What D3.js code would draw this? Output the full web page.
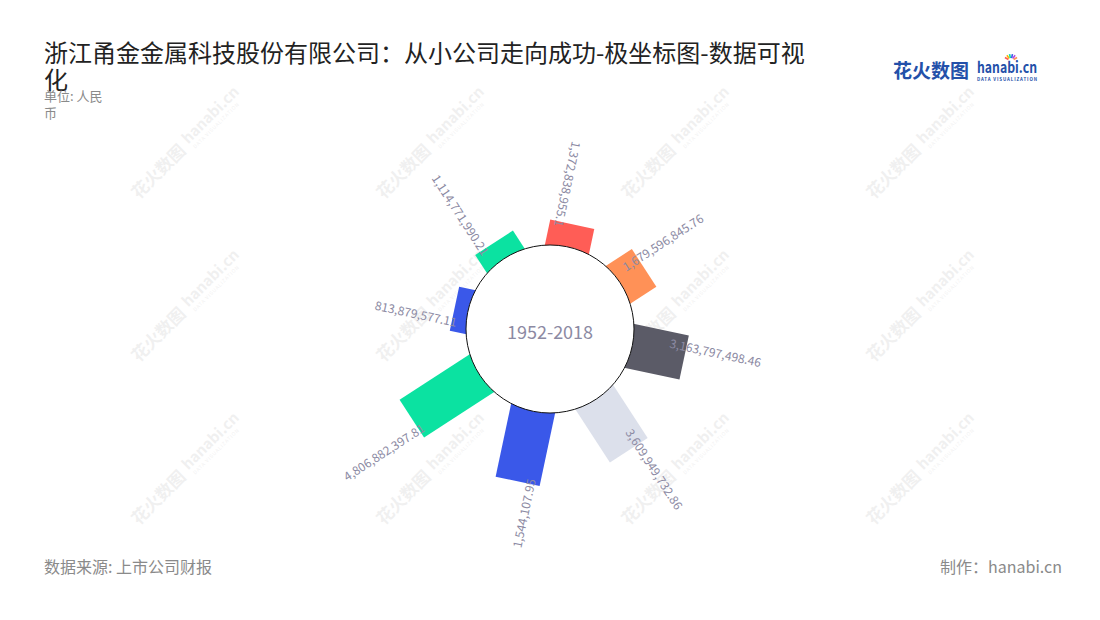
<!DOCTYPE html>
<html>
<head>
<meta charset="utf-8">
<script src="https://cdn.jsdelivr.net/npm/d3@7"></script>
<style>
  html, body { margin: 0; padding: 0; background: #fff; }
  svg { display: block; }
  text { font-family: "Noto Sans CJK SC", "Noto Sans", sans-serif; }
</style>
</head>
<body>
<svg id="chart" width="1100" height="620"></svg>
<script>
// ---- data ----
const categories = ["项目1", "项目2", "项目3", "项目4", "项目5", "项目6", "项目7", "项目8"];
const values = [1679596845.76, 3163797498.46, 3609949732.86, 4270000000, 4806882397.81, 813879577.11, 1114771990.21, 1372838955.1];
const valueLabels = ["1,679,596,845.76", "3,163,797,498.46", "3,609,949,732.86", "1,544,107.95", "4,806,882,397.81", "813,879,577.11", "1,114,771,990.21", "1,372,838,955.1"];
const colors = ["#FF9157", "#5B5B67", "#DCE0EB", "#3A58E9", "#0BE2A1", "#3A58E9", "#0BE2A1", "#FF5D56"];
const titleLines = ["浙江甬金金属科技股份有限公司：从小公司走向成功-极坐标图-数据可视", "化"];
const subtitleLines = ["单位: 人民", "币"];
const centerLabel = "1952-2018";
const sourceText = "数据来源: 上市公司财报";
const makerText = "制作：hanabi.cn";

const svg = d3.select("#chart");

// ---- watermarks ----
const wm = svg.append("g").attr("class", "watermarks");
const wmX = [184, 429, 674, 919], wmY = [146, 309, 472];
wmY.forEach(y => wmX.forEach(x => {
  const g = wm.append("g").attr("transform", `translate(${x},${y}) rotate(-45)`).attr("opacity", 0.055);
  g.append("text").attr("x", -70).attr("y", 6).attr("font-size", 17).attr("font-weight", 700)
    .attr("fill", "#000").text("花火数图");
  g.append("text").attr("x", 4).attr("y", 2).attr("font-size", 15).attr("font-weight", 700)
    .attr("font-family", "Lato, sans-serif").attr("fill", "#000").text("hanabi.cn");
  g.append("text").attr("x", 6).attr("y", 10).attr("font-size", 5).attr("letter-spacing", 0.8)
    .attr("fill", "#000").text("DATA VISUALIZATION");
}));

// ---- title ----
svg.append("text").attr("font-size", 24).attr("fill", "#222")
  .selectAll("tspan").data(titleLines).join("tspan")
  .attr("x", 44).attr("y", (d, i) => 62 + i * 27).text(d => d);
svg.append("text").attr("font-size", 13).attr("fill", "#8a8a8a")
  .selectAll("tspan").data(subtitleLines).join("tspan")
  .attr("x", 44).attr("y", (d, i) => 101 + i * 17).text(d => d);

// ---- logo ----
const logo = svg.append("g");
logo.append("text").attr("x", 893).attr("y", 78).attr("font-size", 19).attr("font-weight", 700)
  .attr("fill", "#2350A9").text("花火数图");
logo.append("text").attr("x", 977).attr("y", 73).attr("font-size", 15).attr("font-weight", 700)
  .attr("textLength", 60).attr("lengthAdjust", "spacingAndGlyphs")
  .attr("font-family", "Lato, sans-serif").attr("fill", "#2350A9").text("hanabi.cn");
logo.append("text").attr("x", 977).attr("y", 81).attr("font-size", 4.4)
  .attr("textLength", 60).attr("lengthAdjust", "spacing")
  .attr("font-family", "Lato, sans-serif").attr("font-weight", 700).attr("fill", "#2350A9").text("DATA VISUALIZATION");
const burst = ["#FF5D56", "#FFB300", "#0BE2A1", "#3A58E9", "#B04BE0", "#FF9157"];
burst.forEach((c, i) => {
  const a = (-150 + i * 24) * Math.PI / 180;
  logo.append("line").attr("x1", 1011 + Math.cos(a) * 3).attr("y1", 61 + Math.sin(a) * 3)
    .attr("x2", 1011 + Math.cos(a) * 7).attr("y2", 61 + Math.sin(a) * 7)
    .attr("stroke", c).attr("stroke-width", 1.6);
});

// ---- polar bars ----
const cx = 550, cy = 329, R = 84;
const barW = 45;
const angle = d3.scaleBand().domain(categories).range([34.5, 394.5]).padding(0);
const radius = d3.scaleLinear().domain([0, 5e9]).range([R, R + 84]);
const data = categories.map((c, i) => ({ c, v: values[i], label: valueLabels[i], color: colors[i] }));
const ang = d => angle(d.c) + angle.bandwidth() / 2;

const plot = svg.append("g").attr("transform", `translate(${cx},${cy})`);
plot.selectAll("rect.bar").data(data).join("rect").attr("class", "bar")
  .attr("transform", d => `rotate(${ang(d)})`)
  .attr("x", -barW / 2).attr("y", d => -radius(d.v))
  .attr("width", barW).attr("height", d => radius(d.v) - R * 0.5)
  .attr("fill", d => d.color);

plot.append("circle").attr("r", R).attr("fill", "#fff").attr("stroke", "#111").attr("stroke-width", 1);
plot.append("text").attr("x", 0).attr("y", 2).attr("text-anchor", "middle").attr("dominant-baseline", "central")
  .attr("font-size", 18).attr("fill", "#8C8AA3").text(centerLabel);

// ---- value labels ----
plot.selectAll("g.lbl").data(data).join("g").attr("class", "lbl")
  .attr("transform", d => `rotate(${ang(d)})`)
  .each(function (d) {
    const a = ang(d) % 360;
    const inward = a > 180 || a < 45;
    const r = radius(d.v);
    d3.select(this).append("text")
      .attr("transform", inward ? `translate(-12,${-(r - 5)}) rotate(90)` : `translate(-12,${-(r - 17)}) rotate(-90)`)
      .attr("text-anchor", inward ? "end" : "start")
      .attr("dominant-baseline", "central")
      .attr("font-size", 12).attr("fill", "#8C8AA3")
      .text(d.label);
  });

// ---- footer ----
svg.append("text").attr("x", 44).attr("y", 573).attr("font-size", 16).attr("fill", "#8a8a8a").text(sourceText);
svg.append("text").attr("x", 1062).attr("y", 573).attr("text-anchor", "end").attr("font-size", 16)
  .attr("fill", "#8a8a8a").text(makerText);
</script>
</body>
</html>
